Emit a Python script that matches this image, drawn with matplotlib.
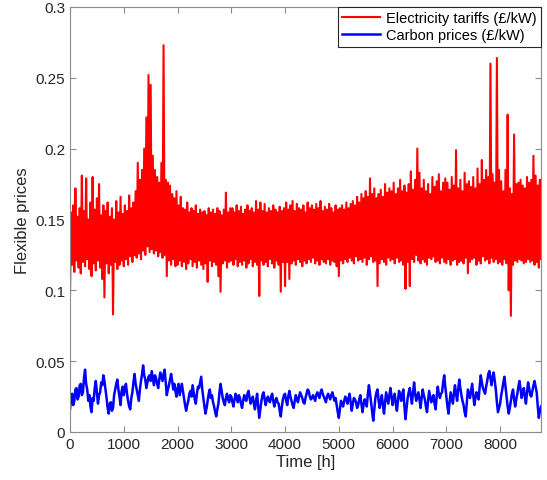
# Hourly flexible prices over one year (electricity tariffs and carbon prices)

import numpy as np
import matplotlib.pyplot as plt
from matplotlib.ticker import FuncFormatter

plt.rcParams['font.family'] = ['Liberation Sans', 'DejaVu Sans']

# time axis: one sample every 20 h over the year
hours = np.arange(0, 8761, 20)

# electricity tariffs (£/kW), 25 samples per 500 h
electricity = [
    # 0 - 480 h
    0.097, 0.155, 0.118, 0.160, 0.113, 0.172, 0.121, 0.152, 0.116, 0.158, 0.112, 0.181, 0.120,
    0.156, 0.117, 0.179, 0.122, 0.150, 0.115, 0.162, 0.110, 0.180, 0.119, 0.157, 0.114,
    # 500 - 980 h
    0.165, 0.121, 0.175, 0.116, 0.153, 0.108, 0.160, 0.095, 0.156, 0.119, 0.162, 0.112, 0.152,
    0.118, 0.158, 0.083, 0.150, 0.120, 0.163, 0.115, 0.155, 0.118, 0.166, 0.121, 0.154,
    # 1000 - 1480 h
    0.117, 0.160, 0.122, 0.156, 0.118, 0.167, 0.124, 0.158, 0.120, 0.162, 0.125, 0.170, 0.123,
    0.190, 0.126, 0.178, 0.122, 0.185, 0.128, 0.200, 0.125, 0.222, 0.131, 0.252, 0.127,
    # 1500 - 1980 h
    0.245, 0.129, 0.195, 0.126, 0.185, 0.128, 0.180, 0.124, 0.176, 0.127, 0.190, 0.123, 0.273,
    0.125, 0.178, 0.110, 0.176, 0.121, 0.174, 0.118, 0.168, 0.122, 0.165, 0.117, 0.170,
    # 2000 - 2480 h
    0.118, 0.160, 0.121, 0.166, 0.117, 0.158, 0.120, 0.157, 0.115, 0.162, 0.119, 0.155, 0.122,
    0.158, 0.117, 0.156, 0.120, 0.160, 0.116, 0.154, 0.121, 0.157, 0.118, 0.155, 0.115,
    # 2500 - 2980 h
    0.156, 0.119, 0.153, 0.106, 0.158, 0.121, 0.155, 0.117, 0.157, 0.120, 0.154, 0.118, 0.158,
    0.110, 0.156, 0.099, 0.153, 0.119, 0.157, 0.121, 0.169, 0.116, 0.155, 0.120, 0.158,
    # 3000 - 3480 h
    0.121, 0.158, 0.118, 0.155, 0.122, 0.160, 0.117, 0.156, 0.120, 0.159, 0.118, 0.154, 0.121,
    0.157, 0.116, 0.160, 0.119, 0.156, 0.122, 0.158, 0.117, 0.155, 0.120, 0.163, 0.118,
    # 3500 - 3980 h
    0.157, 0.096, 0.162, 0.121, 0.156, 0.118, 0.161, 0.120, 0.155, 0.117, 0.158, 0.122, 0.156,
    0.119, 0.160, 0.116, 0.157, 0.121, 0.155, 0.118, 0.159, 0.099, 0.156, 0.120, 0.158,
    # 4000 - 4480 h
    0.103, 0.162, 0.120, 0.157, 0.108, 0.160, 0.119, 0.163, 0.121, 0.156, 0.118, 0.161, 0.122,
    0.158, 0.120, 0.157, 0.117, 0.160, 0.121, 0.155, 0.119, 0.162, 0.122, 0.158, 0.120,
    # 4500 - 4980 h
    0.160, 0.123, 0.157, 0.119, 0.161, 0.121, 0.158, 0.118, 0.163, 0.122, 0.156, 0.120, 0.159,
    0.119, 0.157, 0.122, 0.161, 0.118, 0.158, 0.121, 0.155, 0.120, 0.160, 0.117, 0.157,
    # 5000 - 5480 h
    0.110, 0.158, 0.121, 0.160, 0.119, 0.157, 0.122, 0.162, 0.120, 0.158, 0.123, 0.161, 0.121,
    0.163, 0.119, 0.160, 0.124, 0.166, 0.121, 0.162, 0.122, 0.168, 0.120, 0.165, 0.123,
    # 5500 - 5980 h
    0.170, 0.118, 0.166, 0.122, 0.179, 0.124, 0.168, 0.120, 0.172, 0.121, 0.165, 0.103, 0.168,
    0.119, 0.171, 0.122, 0.166, 0.120, 0.175, 0.118, 0.169, 0.123, 0.172, 0.121, 0.170,
    # 6000 - 6480 h
    0.122, 0.176, 0.119, 0.168, 0.123, 0.172, 0.120, 0.178, 0.121, 0.170, 0.118, 0.174, 0.101,
    0.169, 0.120, 0.175, 0.103, 0.184, 0.122, 0.171, 0.120, 0.178, 0.125, 0.200, 0.121,
    # 6500 - 6980 h
    0.183, 0.119, 0.172, 0.122, 0.178, 0.120, 0.170, 0.118, 0.175, 0.123, 0.168, 0.122, 0.180,
    0.124, 0.173, 0.120, 0.177, 0.121, 0.182, 0.119, 0.170, 0.123, 0.176, 0.120, 0.179,
    # 7000 - 7480 h
    0.119, 0.176, 0.122, 0.171, 0.118, 0.180, 0.121, 0.174, 0.122, 0.199, 0.118, 0.172, 0.120,
    0.178, 0.121, 0.170, 0.119, 0.183, 0.123, 0.175, 0.112, 0.177, 0.120, 0.173, 0.122,
    # 7500 - 7980 h
    0.180, 0.123, 0.172, 0.118, 0.186, 0.121, 0.175, 0.119, 0.192, 0.124, 0.178, 0.121, 0.185,
    0.122, 0.180, 0.119, 0.260, 0.123, 0.182, 0.120, 0.176, 0.122, 0.264, 0.119, 0.185,
    # 8000 - 8480 h
    0.120, 0.177, 0.118, 0.170, 0.122, 0.185, 0.119, 0.224, 0.100, 0.172, 0.082, 0.168, 0.118,
    0.210, 0.121, 0.175, 0.120, 0.176, 0.122, 0.178, 0.121, 0.174, 0.119, 0.172, 0.120,
    # 8500 - 8760 h
    0.180, 0.122, 0.176, 0.120, 0.178, 0.121, 0.195, 0.118, 0.181, 0.120, 0.174, 0.116, 0.178,
    0.122,
]

# carbon prices (£/kW), same time steps
carbon = [
    # 0 - 480 h
    0.016, 0.024, 0.027, 0.019, 0.022, 0.030, 0.031, 0.023, 0.025, 0.033, 0.034, 0.026, 0.028,
    0.038, 0.044, 0.034, 0.030, 0.022, 0.026, 0.018, 0.014, 0.024, 0.022, 0.031, 0.036,
    # 500 - 980 h
    0.028, 0.020, 0.026, 0.028, 0.035, 0.033, 0.040, 0.036, 0.030, 0.024, 0.017, 0.013, 0.020,
    0.021, 0.015, 0.017, 0.026, 0.030, 0.034, 0.037, 0.030, 0.025, 0.019, 0.029, 0.032,
    # 1000 - 1480 h
    0.026, 0.031, 0.034, 0.027, 0.022, 0.018, 0.016, 0.024, 0.028, 0.035, 0.041, 0.034, 0.030,
    0.026, 0.022, 0.030, 0.036, 0.041, 0.047, 0.040, 0.037, 0.031, 0.035, 0.039, 0.040,
    # 1500 - 1980 h
    0.036, 0.043, 0.038, 0.033, 0.040, 0.038, 0.034, 0.031, 0.037, 0.042, 0.039, 0.036, 0.041,
    0.044, 0.035, 0.026, 0.030, 0.033, 0.037, 0.041, 0.036, 0.030, 0.034, 0.029, 0.025,
    # 2000 - 2480 h
    0.031, 0.034, 0.026, 0.030, 0.034, 0.029, 0.024, 0.019, 0.015, 0.019, 0.022, 0.027, 0.029,
    0.025, 0.033, 0.028, 0.023, 0.020, 0.027, 0.032, 0.031, 0.035, 0.039, 0.030, 0.024,
    # 2500 - 2980 h
    0.018, 0.013, 0.017, 0.022, 0.027, 0.030, 0.024, 0.026, 0.021, 0.018, 0.014, 0.011, 0.016,
    0.020, 0.028, 0.034, 0.029, 0.024, 0.021, 0.019, 0.024, 0.027, 0.023, 0.021, 0.026,
    # 3000 - 3480 h
    0.025, 0.021, 0.018, 0.023, 0.027, 0.024, 0.021, 0.026, 0.024, 0.020, 0.017, 0.022, 0.026,
    0.023, 0.022, 0.027, 0.029, 0.024, 0.020, 0.023, 0.025, 0.020, 0.016, 0.022, 0.027,
    # 3500 - 3980 h
    0.018, 0.010, 0.016, 0.022, 0.026, 0.028, 0.023, 0.019, 0.023, 0.025, 0.022, 0.021, 0.025,
    0.027, 0.022, 0.018, 0.022, 0.024, 0.021, 0.020, 0.015, 0.011, 0.018, 0.023, 0.026,
    # 4000 - 4480 h
    0.027, 0.022, 0.019, 0.025, 0.029, 0.025, 0.022, 0.019, 0.017, 0.022, 0.026, 0.023, 0.021,
    0.025, 0.028, 0.026, 0.024, 0.021, 0.020, 0.024, 0.027, 0.030, 0.029, 0.025, 0.023,
    # 4500 - 4980 h
    0.024, 0.026, 0.024, 0.022, 0.026, 0.028, 0.026, 0.024, 0.028, 0.030, 0.027, 0.025, 0.023,
    0.021, 0.025, 0.027, 0.025, 0.023, 0.026, 0.028, 0.025, 0.022, 0.024, 0.019, 0.014,
    # 5000 - 5480 h
    0.010, 0.016, 0.022, 0.020, 0.018, 0.022, 0.025, 0.023, 0.020, 0.024, 0.027, 0.021, 0.015,
    0.020, 0.024, 0.023, 0.021, 0.017, 0.019, 0.023, 0.026, 0.020, 0.014, 0.019, 0.023,
    # 5500 - 5980 h
    0.021, 0.018, 0.027, 0.033, 0.027, 0.021, 0.014, 0.008, 0.016, 0.024, 0.028, 0.030, 0.022,
    0.017, 0.022, 0.026, 0.019, 0.013, 0.021, 0.028, 0.024, 0.020, 0.026, 0.031, 0.025,
    # 6000 - 6480 h
    0.019, 0.024, 0.027, 0.020, 0.015, 0.022, 0.029, 0.026, 0.022, 0.027, 0.030, 0.018, 0.009,
    0.017, 0.024, 0.028, 0.031, 0.025, 0.020, 0.028, 0.035, 0.027, 0.022, 0.025, 0.028,
    # 6500 - 6980 h
    0.023, 0.017, 0.024, 0.030, 0.026, 0.023, 0.018, 0.014, 0.022, 0.029, 0.025, 0.021, 0.024,
    0.026, 0.020, 0.016, 0.025, 0.032, 0.027, 0.024, 0.027, 0.028, 0.035, 0.040, 0.032,
    # 7000 - 7480 h
    0.025, 0.018, 0.013, 0.021, 0.028, 0.024, 0.020, 0.027, 0.033, 0.027, 0.022, 0.030, 0.037,
    0.031, 0.026, 0.022, 0.019, 0.014, 0.011, 0.021, 0.030, 0.027, 0.024, 0.029, 0.034,
    # 7500 - 7980 h
    0.026, 0.019, 0.024, 0.028, 0.025, 0.023, 0.032, 0.040, 0.035, 0.031, 0.029, 0.027, 0.032,
    0.036, 0.041, 0.043, 0.038, 0.033, 0.039, 0.042, 0.036, 0.030, 0.021, 0.014, 0.017,
    # 8000 - 8480 h
    0.020, 0.026, 0.030, 0.035, 0.039, 0.032, 0.025, 0.018, 0.013, 0.017, 0.022, 0.027, 0.030,
    0.023, 0.018, 0.023, 0.027, 0.032, 0.036, 0.030, 0.024, 0.028, 0.031, 0.025, 0.020,
    # 8500 - 8760 h
    0.028, 0.035, 0.031, 0.026, 0.025, 0.029, 0.033, 0.036, 0.032, 0.028, 0.018, 0.010, 0.015,
    0.018,
]

x_ticks = [0, 1000, 2000, 3000, 4000, 5000, 6000, 7000, 8000]
y_ticks = [0, 0.05, 0.1, 0.15, 0.2, 0.25, 0.3]

fig = plt.figure(figsize=(5.47, 4.81), dpi=100)
ax = fig.add_axes([0.128, 0.0998, 0.861, 0.8836])

ax.plot(hours, electricity, color='#ff0000', linewidth=1.5, label='Electricity tariffs (£/kW)')
ax.plot(hours, carbon, color='#0000ff', linewidth=1.8, label='Carbon prices (£/kW)')

ax.set_xlim(0, 8760)
ax.set_ylim(0, 0.3)
ax.set_xticks(x_ticks)
ax.set_yticks(y_ticks)
ax.yaxis.set_major_formatter(FuncFormatter(lambda v, p: '%g' % v))

# MATLAB-like box with inward ticks on all sides
for s in ax.spines.values():
    s.set_color('#8c8c8c')
    s.set_linewidth(0.8)
ax.tick_params(direction='in', top=True, right=True, length=4, width=0.8,
               color='#8c8c8c', labelcolor='#262626', labelsize=11)

ax.set_xlabel('Time [h]', fontsize=12, color='#262626', labelpad=2)
ax.set_ylabel('Flexible prices', fontsize=12, color='#262626', labelpad=4)

leg = ax.legend(loc='upper right', fontsize=10.5, frameon=True, fancybox=False,
                handlelength=2.6, handletextpad=0.4, borderpad=0.3, labelspacing=0.2,
                borderaxespad=0.0)
leg.get_frame().set_edgecolor('#262626')
leg.get_frame().set_linewidth(0.8)
leg.get_frame().set_alpha(1)

plt.savefig('out.png', dpi=100)
